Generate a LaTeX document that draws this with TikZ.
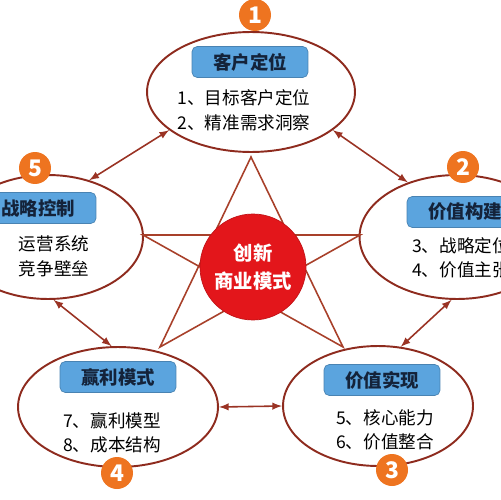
\documentclass[tikz,border=0pt]{standalone}
\usepackage{fontspec}
\setmainfont{Noto Sans CJK SC}
\usetikzlibrary{shapes.geometric}
\definecolor{ringred}{HTML}{8E2B1E}
\definecolor{starred}{HTML}{A8402A}
\definecolor{linkred}{HTML}{9A3324}
\definecolor{badgeorange}{HTML}{EE7420}
\definecolor{tagblue}{HTML}{5BA4DE}
\definecolor{tagtext}{HTML}{14233A}
\definecolor{corered}{HTML}{E3161B}

\begin{document}
\begin{tikzpicture}[x=0.02cm, y=-0.02cm,
  ring/.style={ellipse, draw=ringred, line width=1.1pt, inner sep=0pt},
  badge/.style={circle, fill=badgeorange, text=white, minimum size=0.64cm, inner sep=0pt,
    font=\fontsize{13}{13}\selectfont\bfseries},
  tagbox/.style={rounded corners=3pt, fill=tagblue, draw=tagblue!80!black, line width=0.4pt,
    minimum width=2.32cm, minimum height=0.62cm, inner sep=0pt, text=tagtext,
    font=\fontsize{10.5}{12}\selectfont\bfseries},
  item/.style={align=center, inner sep=0pt, font=\fontsize{10}{14}\selectfont},
  starline/.style={draw=starred, line width=0.9pt, line join=miter},
  link/.style={draw=linkred, line width=0.9pt, latex-latex}]
  \useasboundingbox (0,0) rectangle (500,500);

  % the five rings
  \node[ring, minimum width=4.16cm, minimum height=2.4cm] (e1) at (251,92) {};
  \node[ring, minimum width=3.9cm, minimum height=2.48cm] (e2) at (457,237) {};
  \node[ring, minimum width=3.8cm, minimum height=2.4cm] (e3) at (378,406) {};
  \node[ring, minimum width=4cm, minimum height=2.4cm] (e4) at (118,407) {};
  \node[ring, minimum width=3.8cm, minimum height=2.48cm] (e5) at (48,237) {};

  % star behind the core
  \coordinate (s1) at (251,157);
  \coordinate (s2) at (360,235);
  \coordinate (s3) at (343,347);
  \coordinate (s4) at (160,347);
  \coordinate (s5) at (143,235);
  \draw[starline] (s1) -- (s3) -- (s5) -- (s2) -- (s4) -- cycle;

  % links between rings
  \draw[link] (e1.205) -- (e5.54);
  \draw[link] (e1.335) -- (e2.132);
  \draw[link] (e5.275) -- (e4.96);
  \draw[link] (e2.265) -- (e3.69);
  \draw[link] (e4.0) -- (e3.180);

  \node[circle, fill=corered, draw=corered!85!black, minimum size=2.12cm, inner sep=0pt,
    text=white, align=center, font=\fontsize{11}{16}\selectfont\bfseries] (core) at (253,267)
    {创新\\商业模式};

  \node[tagbox] (t1) at (250,62) {客户定位};
  \node[tagbox] (t2) at (465,212) {价值构建};
  \node[tagbox] (t3) at (382,380) {价值实现};
  \node[tagbox] (t4) at (118,377) {赢利模式};
  \node[tagbox] (t5) at (38,208) {战略控制};

  \node[item] (l1) at (244,110) {1、目标客户定位\\2、精准需求洞察};
  \node[item] (l2) at (461,258) {3、战略定位\\4、价值主张};
  \node[item] (l3) at (385,430) {5、核心能力\\6、价值整合};
  \node[item] (l4) at (112,433) {7、赢利模型\\8、成本结构};
  \node[item] (l5) at (54,256) {运营系统\\竞争壁垒};

  \node[badge] (b1) at (255,15) {1};
  \node[badge] (b2) at (463,167) {2};
  \node[badge] (b3) at (392,470) {3};
  \node[badge] (b4) at (117,473) {4};
  \node[badge] (b5) at (35,168) {5};
\end{tikzpicture}
\end{document}
